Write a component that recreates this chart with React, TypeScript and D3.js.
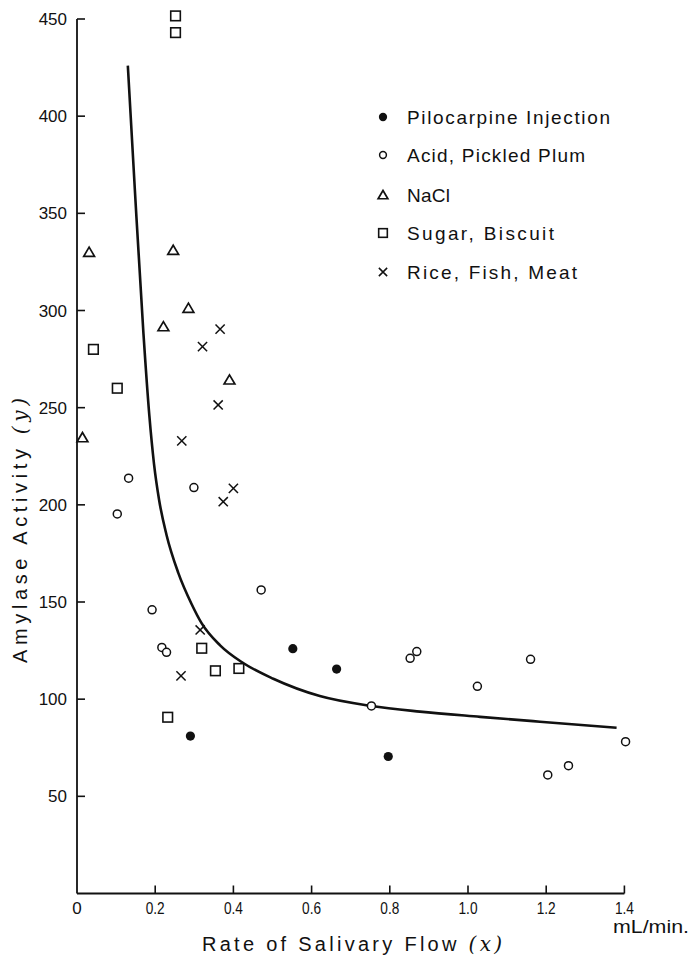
import React from "react";
import * as d3 from "d3";

// Salivary flow (mL/min) vs amylase activity, grouped by stimulus
const pilocarpine: [number, number][] = [
  [0.29, 81], [0.552, 126], [0.664, 115.5], [0.796, 70.5],
];
const acidPlum: [number, number][] = [
  [0.103, 195.3], [0.132, 213.7], [0.192, 146], [0.217, 126.6], [0.229, 124.1],
  [0.299, 208.9], [0.471, 156.2], [0.753, 96.5], [0.852, 121], [0.869, 124.5],
  [1.024, 106.6], [1.16, 120.5], [1.204, 61], [1.257, 65.8], [1.403, 78.1],
];
const nacl: [number, number][] = [
  [0.014, 234.6], [0.031, 330], [0.221, 291.7], [0.246, 331], [0.285, 301.2], [0.39, 264.3],
];
const sugarBiscuit: [number, number][] = [
  [0.042, 280], [0.103, 260], [0.232, 90.7], [0.252, 443], [0.252, 451.6],
  [0.319, 126.2], [0.354, 114.6], [0.414, 115.8],
];
const riceFishMeat: [number, number][] = [
  [0.266, 112], [0.268, 232.9], [0.315, 135.6], [0.321, 281.4], [0.361, 251.4],
  [0.366, 290.4], [0.374, 201.6], [0.4, 208.5],
];

// Fitted curve through the pooled data
const fitFlow = [0.13, 0.148, 0.17, 0.185, 0.197, 0.21, 0.229, 0.259, 0.293, 0.319, 0.366, 0.425, 0.502, 0.621, 0.753, 0.877, 1.031, 1.184, 1.38];
const fitActivity = [426, 362, 288, 246, 221, 202.5, 184.5, 165, 149, 139, 127.7, 118.6, 110.5, 101.6, 96.5, 93.6, 90.9, 88.4, 85.3];

const xTicks = [0, 0.2, 0.4, 0.6, 0.8, 1.0, 1.2, 1.4];
const xTickLabels = ["0", "0.2", "0.4", "0.6", "0.8", "1.0", "1.2", "1.4"];
const yTicks = [50, 100, 150, 200, 250, 300, 350, 400, 450];

const legendLabels = [
  "Pilocarpine Injection",
  "Acid, Pickled Plum",
  "NaCl",
  "Sugar, Biscuit",
  "Rice, Fish, Meat",
];
const legendWidths = [203, 178, 43, 147, 170];

const INK = "#111";
const FONT = "'Liberation Sans', Arial, sans-serif";

type Kind = "filled" | "open" | "triangle" | "square" | "cross";

function Marker({ kind, cx, cy, s = 1 }: { kind: Kind; cx: number; cy: number; s?: number }) {
  if (kind === "filled") return <circle cx={cx} cy={cy} r={4.6 * s} fill={INK} />;
  if (kind === "open")
    return <circle cx={cx} cy={cy} r={4 * s} fill="#fff" stroke={INK} strokeWidth={1.5} />;
  if (kind === "triangle") {
    const w = 5.4 * s, h = 9.2 * s;
    return (
      <path
        d={`M${cx},${cy - h * 0.55}L${cx + w},${cy + h * 0.45}L${cx - w},${cy + h * 0.45}Z`}
        fill="none" stroke={INK} strokeWidth={1.7} strokeLinejoin="miter"
      />
    );
  }
  if (kind === "square") {
    const a = 4.8 * s;
    return <rect x={cx - a} y={cy - a} width={2 * a} height={2 * a} fill="#fff" stroke={INK} strokeWidth={1.6} />;
  }
  const a = 4.6 * s;
  return (
    <path d={`M${cx - a},${cy - a}L${cx + a},${cy + a}M${cx - a},${cy + a}L${cx + a},${cy - a}`}
      stroke={INK} strokeWidth={1.5} fill="none" />
  );
}

export default function App() {
  const x = d3.scaleLinear().domain([0, 1.4]).range([77, 624.4]);
  const y = d3.scaleLinear().domain([0, 450]).range([893.5, 19]);

  const fitLine = d3
    .line<number>()
    .x((_, i) => x(fitFlow[i]))
    .y((d) => y(d))
    .curve(d3.curveMonotoneX)(fitActivity) as string;

  const series: { kind: Kind; data: [number, number][] }[] = [
    { kind: "filled", data: pilocarpine },
    { kind: "open", data: acidPlum },
    { kind: "triangle", data: nacl },
    { kind: "square", data: sugarBiscuit },
    { kind: "cross", data: riceFishMeat },
  ];
  const legendKinds: Kind[] = ["filled", "open", "triangle", "square", "cross"];
  const legendY = [117, 155, 195, 233, 272];

  return (
    <svg
      width={695}
      height={960}
      style={{ position: "absolute", left: 0, top: 0, background: "#fff" }}
      fontFamily={FONT}
    >
      <rect width={695} height={960} fill="#fff" />

      {/* axes */}
      <line x1={x(0)} x2={x(0)} y1={y(0)} y2={y(450)} stroke={INK} strokeWidth={1.8} />
      <line x1={x(0)} x2={x(1.4)} y1={y(0)} y2={y(0)} stroke={INK} strokeWidth={1.8} />

      {yTicks.map((t) => (
        <g key={`y${t}`}>
          <line x1={x(0)} x2={x(0) + 8} y1={y(t)} y2={y(t)} stroke={INK} strokeWidth={1.6} />
          <text x={x(0) - 10} y={y(t) + 6} textAnchor="end" fontSize={17} fill={INK}>
            {t}
          </text>
        </g>
      ))}

      {xTicks.map((t, i) => (
        <g key={`x${t}`}>
          {t > 0 && (
            <line x1={x(t)} x2={x(t)} y1={y(0)} y2={y(0) - 8} stroke={INK} strokeWidth={1.6} />
          )}
          <text
            x={x(t)}
            y={914}
            textAnchor="middle"
            fontSize={17}
            fill={INK}
            {...(xTickLabels[i].length > 1 ? { textLength: 19, lengthAdjust: "spacingAndGlyphs" } : {})}
          >
            {xTickLabels[i]}
          </text>
        </g>
      ))}

      <text x={651} y={933} textAnchor="middle" fontSize={18} fill={INK} textLength={76} lengthAdjust="spacingAndGlyphs">
        mL/min.
      </text>

      {/* axis titles */}
      <text x={202} y={951} fontSize={20} fill={INK} textLength={300} lengthAdjust="spacing">
        Rate of Salivary Flow{" "}
        <tspan fontFamily="'DejaVu Serif', serif" fontStyle="italic">(x)</tspan>
      </text>
      <text
        transform={`translate(27,${663}) rotate(-90)`}
        fontSize={20}
        fill={INK}
        textLength={265}
        lengthAdjust="spacing"
      >
        Amylase Activity{" "}
        <tspan fontFamily="'DejaVu Serif', serif" fontStyle="italic">(y)</tspan>
      </text>

      {/* fitted curve */}
      <path d={fitLine} fill="none" stroke={INK} strokeWidth={2.6} />

      {/* data points */}
      {series.map((s) =>
        s.data.map(([fx, fy], i) => (
          <Marker key={`${s.kind}${i}`} kind={s.kind} cx={x(fx)} cy={y(fy)} />
        ))
      )}

      {/* legend */}
      {legendLabels.map((label, i) => (
        <g key={label}>
          <Marker kind={legendKinds[i]} cx={383} cy={legendY[i]} s={legendKinds[i] === "open" ? 0.85 : 0.9} />
          <text x={407} y={legendY[i] + 7} fontSize={19} fill={INK} textLength={legendWidths[i]} lengthAdjust="spacing">
            {label}
          </text>
        </g>
      ))}
    </svg>
  );
}
